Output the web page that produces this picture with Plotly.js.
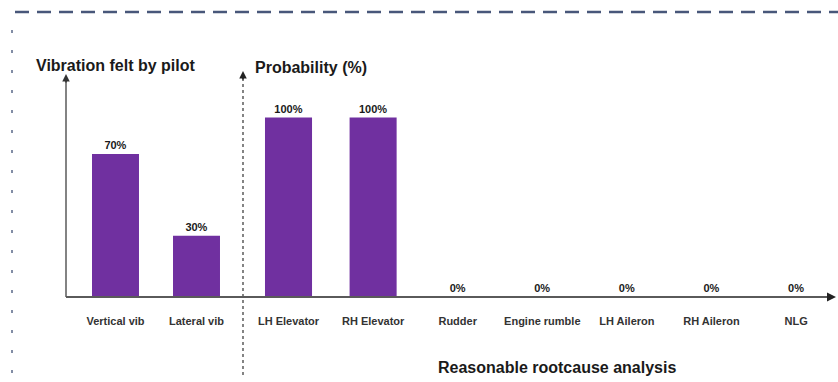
<!DOCTYPE html>
<html>
<head>
<meta charset="utf-8">
<script src="https://cdn.plot.ly/plotly-3.0.1.min.js"></script>
<style>
  html, body { margin: 0; padding: 0; background: #ffffff; }
  #chart { width: 838px; height: 382px; }
</style>
</head>
<body>
<div id="chart"></div>
<script>
// Vibration felt by the pilot
const vibCategories = ['Vertical vib', 'Lateral vib'];
const vibValues = [70, 30];

// Probability per candidate root cause
const causeCategories = ['LH Elevator', 'RH Elevator', 'Rudder', 'Engine rumble', 'LH Aileron', 'RH Aileron', 'NLG'];
const causeValues = [100, 100, 0, 0, 0, 0, 0];

const W = 838, H = 382;
const px = x => x / W;
const py = y => 1 - y / H;

const PURPLE = '#7030a0';
const FONT = 'Liberation Sans, Arial, sans-serif';
const AXIS = '#5a5a5a';

const traces = [
  {
    type: 'bar', x: vibCategories, y: vibValues, xaxis: 'x', yaxis: 'y',
    width: 0.58, marker: { color: PURPLE },
    texttemplate: '<b>%{y}%</b>', textposition: 'outside', cliponaxis: false,
    textfont: { family: FONT, size: 11, color: '#1a1a1a' },
    hoverinfo: 'x+y'
  },
  {
    type: 'bar', x: causeCategories, y: causeValues, xaxis: 'x2', yaxis: 'y2',
    width: 0.556, marker: { color: PURPLE },
    texttemplate: '<b>%{y}%</b>', textposition: 'outside', cliponaxis: false,
    textfont: { family: FONT, size: 11, color: '#1a1a1a' },
    hoverinfo: 'x+y'
  }
];

const tickFont = { family: FONT, size: 11, color: '#333' };
const yDomain = [py(297), py(75)];

const layout = {
  width: W, height: H,
  margin: { l: 0, r: 0, t: 0, b: 0 },
  paper_bgcolor: '#ffffff', plot_bgcolor: 'rgba(0,0,0,0)',
  showlegend: false,
  font: { family: FONT, color: '#222' },
  xaxis: {
    domain: [px(66), px(243)], range: [-0.611, 1.574],
    showline: false, showgrid: false, zeroline: false, ticks: '',
    tickfont: tickFont, anchor: 'y', fixedrange: true
  },
  xaxis2: {
    domain: [px(243), px(835)], range: [-0.538, 6.46],
    showline: false, showgrid: false, zeroline: false, ticks: '',
    tickfont: tickFont, anchor: 'y2', fixedrange: true
  },
  yaxis: {
    domain: yDomain, range: [0, 108.7], anchor: 'x',
    showline: false, showgrid: false, zeroline: false, showticklabels: false, ticks: '',
    fixedrange: true
  },
  yaxis2: {
    domain: yDomain, range: [0, 123.7], anchor: 'x2',
    showline: false, showgrid: false, zeroline: false, showticklabels: false, ticks: '',
    fixedrange: true
  },
  shapes: [
    // dashed frame edge along the top
    { type: 'line', xref: 'paper', yref: 'paper', x0: px(15), x1: px(838), y0: py(12), y1: py(12),
      line: { color: '#48577a', width: 2.5, dash: '14px,8px' } },
    // dashed frame edge along the left
    { type: 'line', xref: 'paper', yref: 'paper', x0: px(12), x1: px(12), y0: py(30), y1: py(382),
      line: { color: '#5a6888', width: 1.5, dash: '3px,17px' } },
    // left vertical axis
    { type: 'line', xref: 'paper', yref: 'paper', x0: px(66), x1: px(66), y0: py(297), y1: py(80),
      line: { color: AXIS, width: 1.5 } },
    // dotted divider / second vertical axis
    { type: 'line', xref: 'paper', yref: 'paper', x0: px(243), x1: px(243), y0: py(375), y1: py(77),
      line: { color: '#333', width: 1.2, dash: 'dot' } },
    // common baseline
    { type: 'line', xref: 'paper', yref: 'paper', x0: px(66), x1: px(830), y0: py(297), y1: py(297),
      line: { color: AXIS, width: 1.8 } }
  ],
  annotations: [
    // arrowheads
    { xref: 'paper', yref: 'paper', x: px(66), y: py(74), ax: 0, ay: 10,
      text: '', showarrow: true, arrowhead: 2, arrowsize: 1, arrowwidth: 1.5, arrowcolor: '#333' },
    { xref: 'paper', yref: 'paper', x: px(243), y: py(71), ax: 0, ay: 10,
      text: '', showarrow: true, arrowhead: 2, arrowsize: 1, arrowwidth: 1.5, arrowcolor: '#222' },
    { xref: 'paper', yref: 'paper', x: px(836), y: py(297), ax: -10, ay: 0,
      text: '', showarrow: true, arrowhead: 2, arrowsize: 1, arrowwidth: 1.8, arrowcolor: '#222' },
    // titles
    { xref: 'paper', yref: 'paper', x: px(34), y: py(65), xanchor: 'left', yanchor: 'middle',
      text: '<b>Vibration felt by pilot</b>', showarrow: false,
      font: { family: FONT, size: 16, color: '#1a1a1a' } },
    { xref: 'paper', yref: 'paper', x: px(253), y: py(68), xanchor: 'left', yanchor: 'middle',
      text: '<b>Probability (%)</b>', showarrow: false,
      font: { family: FONT, size: 16, color: '#1a1a1a' } },
    { xref: 'paper', yref: 'paper', x: px(557), y: py(367), xanchor: 'center', yanchor: 'middle',
      text: '<b>Reasonable rootcause analysis</b>', showarrow: false,
      font: { family: FONT, size: 16, color: '#1a1a1a' } }
  ]
};

// bold category labels
layout.xaxis.tickvals = vibCategories;
layout.xaxis.ticktext = vibCategories.map(c => '<b>' + c + '</b>');
layout.xaxis2.tickvals = causeCategories;
layout.xaxis2.ticktext = causeCategories.map(c => '<b>' + c + '</b>');
layout.xaxis.ticklabelstandoff = 16;
layout.xaxis2.ticklabelstandoff = 16;

Plotly.newPlot('chart', traces, layout, { displayModeBar: false, staticPlot: true });
</script>
</body>
</html>
